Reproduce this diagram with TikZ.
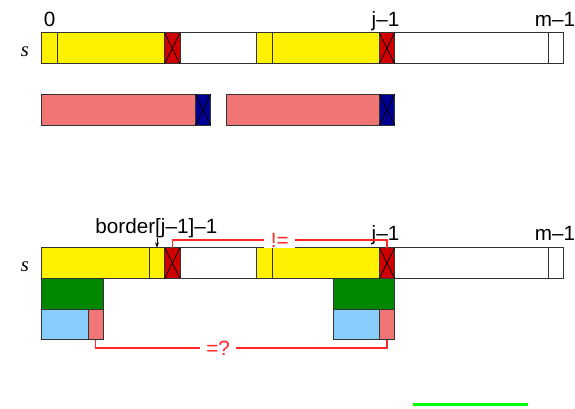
\documentclass[tikz,border=0pt]{standalone}
\usepackage{fontspec}
\setmainfont{Liberation Sans}
\newfontfamily\serifit{Liberation Serif}
\usetikzlibrary{arrows.meta}
\definecolor{cellred}{RGB}{208,0,0}
\definecolor{cellblue}{RGB}{0,0,144}
\definecolor{cellpink}{RGB}{240,118,118}
\definecolor{cellgreen}{RGB}{0,136,0}
\definecolor{cellsky}{RGB}{135,206,255}
\definecolor{cmpred}{RGB}{255,40,40}
\begin{document}
\begin{tikzpicture}[x=11.5pt, y=11.5pt, font=\fontsize{15.5}{18}\selectfont,
  cell/.style={shape=rectangle, draw=black!80, line width=0.75pt, inner sep=0pt, outer sep=0pt, minimum height=23pt, anchor=north west},
  cells/.style={minimum width=#1*11.5pt},
  cmp/.style={draw=cmpred, line width=0.9pt},
  tag/.style={fill=white, text=cmpred, inner xsep=5pt, inner ysep=1pt}]
\useasboundingbox (-2.739,2.152) rectangle (34.76,-24.457);
% string s, first pass
\node[cell, cells=1, fill=yellow] (a0) at (0,0) {};
\node[cell, cells=7, fill=yellow] (a1) at (1,0) {};
\node[cell, cells=1, fill=cellred] (a2) at (8,0) {};
\node[cell, cells=5, fill=white] (a3) at (9,0) {};
\node[cell, cells=1, fill=yellow] (a4) at (14,0) {};
\node[cell, cells=7, fill=yellow] (a5) at (15,0) {};
\node[cell, cells=1, fill=cellred] (a6) at (22,0) {};
\node[cell, cells=10, fill=white] (a7) at (23,0) {};
\node[cell, cells=1, fill=white] (a8) at (33,0) {};
\node[anchor=base] (i0) at (0.5,0.45) {0};
\node[anchor=base] (ij) at (22.4,0.42) {j--1};
\node[anchor=base] (im) at (33.45,0.42) {m--1};
\node[anchor=base] (s1) at (-1.11,-1.55) {\serifit\itshape s};
% matched pieces
\node[cell, cells=10, fill=cellpink] (p1) at (0,-4) {};
\node[cell, cells=1, fill=cellblue] (q1) at (10,-4) {};
\node[cell, cells=10, fill=cellpink] (p2) at (12,-4) {};
\node[cell, cells=1, fill=cellblue] (q2) at (22,-4) {};
% string s, second pass
\node[cell, cells=7, fill=yellow] (b0) at (0,-14) {};
\node[cell, cells=1, fill=yellow] (b1) at (7,-14) {};
\node[cell, cells=1, fill=cellred] (b2) at (8,-14) {};
\node[cell, cells=5, fill=white] (b3) at (9,-14) {};
\node[cell, cells=1, fill=yellow] (b4) at (14,-14) {};
\node[cell, cells=7, fill=yellow] (b5) at (15,-14) {};
\node[cell, cells=1, fill=cellred] (b6) at (22,-14) {};
\node[cell, cells=10, fill=white] (b7) at (23,-14) {};
\node[cell, cells=1, fill=white] (b8) at (33,-14) {};
\node[anchor=base] (jj) at (22.4,-13.5) {j--1};
\node[anchor=base] (jm) at (33.45,-13.5) {m--1};
\node[anchor=base] (s2) at (-1.11,-15.55) {\serifit\itshape s};
\node[anchor=base, inner sep=0pt] (bord) at (7.46,-13.07) {border[j--1]--1};
% border blocks
\node[cell, cells=4, fill=cellgreen] (g1) at (0,-16) {};
\node[cell, cells=3, fill=cellsky] (c1) at (0,-18) {};
\node[cell, cells=1, fill=cellpink] (d1) at (3,-18) {};
\node[cell, cells=4, fill=cellgreen] (g2) at (19,-16) {};
\node[cell, cells=3, fill=cellsky] (c2) at (19,-18) {};
\node[cell, cells=1, fill=cellpink] (d2) at (22,-18) {};
% crosses
\path [-, line width=0.6pt, draw=black] (a2.north west) edge (a2.south east) (a2.north east) edge (a2.south west);
\path [-, line width=0.6pt, draw=black] (a6.north west) edge (a6.south east) (a6.north east) edge (a6.south west);
\path [-, line width=0.6pt, draw=black] (q1.north west) edge (q1.south east) (q1.north east) edge (q1.south west);
\path [-, line width=0.6pt, draw=black] (q2.north west) edge (q2.south east) (q2.north east) edge (q2.south west);
\path [-, line width=0.6pt, draw=black] (b2.north west) edge (b2.south east) (b2.north east) edge (b2.south west);
\path [-, line width=0.6pt, draw=black] (b6.north west) edge (b6.south east) (b6.north east) edge (b6.south west);
% comparisons
\draw [-{Stealth[length=4pt, width=3pt]}, line width=0.6pt] (bord.south -| b1.north) -- (b1.north);
\draw [cmp] (b2.north) -- ++(0,0.5) -| node[tag, pos=0.25] {!=} (b6.north);
\draw [cmp, line width=1.1pt] (d1.south) -- ++(0,-0.55) -| node[tag, pos=0.21] {=?} (d2.south);
\coordinate (ga) at (24.2,-24.23);
\coordinate (gb) at (31.7,-24.23);
\draw [line width=1.6pt, draw=green] (ga) -- (gb);
\end{tikzpicture}
\end{document}
